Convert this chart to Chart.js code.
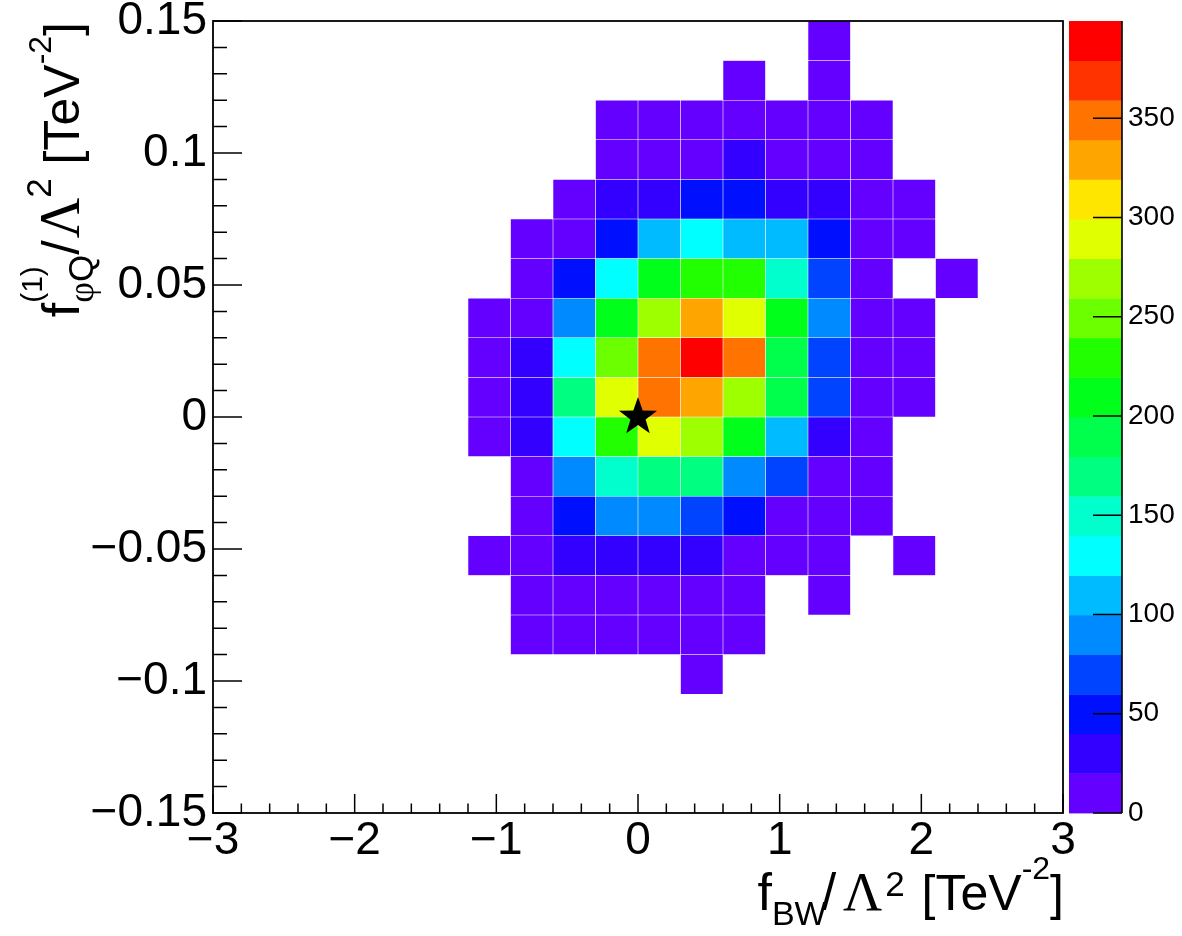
<!DOCTYPE html>
<html>
<head>
<meta charset="utf-8">
<script src="https://cdn.jsdelivr.net/npm/chart.js@4.4.1/dist/chart.umd.min.js"></script>
<style>
  html, body { margin: 0; padding: 0; background: #fff; }
  canvas { display: block; }
</style>
</head>
<body>
<canvas id="hist" width="1182" height="936"></canvas>
<script>
// bin edges of the 2D histogram
const xEdges = [-3, -2.7, -2.4, -2.1, -1.8, -1.5, -1.2, -0.9, -0.6, -0.3, 0,
                0.3, 0.6, 0.9, 1.2, 1.5, 1.8, 2.1, 2.4, 2.7, 3];
const yEdges = [0.15, 0.135, 0.12, 0.105, 0.09, 0.075, 0.06, 0.045, 0.03, 0.015, 0,
                -0.015, -0.03, -0.045, -0.06, -0.075, -0.09, -0.105, -0.12, -0.135, -0.15];

// bin contents, one row per y bin (top row first), one column per x bin
const counts = [
  [0, 0, 0, 0, 0, 0, 0, 0, 0, 0, 0, 0, 0, 0, 3, 0, 0, 0, 0, 0],
  [0, 0, 0, 0, 0, 0, 0, 0, 0, 0, 0, 0, 2, 0, 4, 0, 0, 0, 0, 0],
  [0, 0, 0, 0, 0, 0, 0, 0, 0, 6, 9, 12, 15, 11, 8, 5, 0, 0, 0, 0],
  [0, 0, 0, 0, 0, 0, 0, 0, 0, 11, 16, 18, 24, 17, 13, 7, 0, 0, 0, 0],
  [0, 0, 0, 0, 0, 0, 0, 0, 9, 26, 35, 52, 49, 31, 24, 14, 6, 0, 0, 0],
  [0, 0, 0, 0, 0, 0, 0, 5, 18, 57, 108, 126, 112, 103, 44, 16, 7, 0, 0, 0],
  [0, 0, 0, 0, 0, 0, 0, 10, 55, 128, 208, 226, 222, 149, 68, 17, 0, 2, 0, 0],
  [0, 0, 0, 0, 0, 0, 4, 19, 88, 212, 268, 331, 294, 205, 86, 15, 5, 0, 0, 0],
  [0, 0, 0, 0, 0, 0, 6, 33, 133, 252, 352, 399, 347, 188, 66, 18, 8, 0, 0, 0],
  [0, 0, 0, 0, 0, 0, 9, 37, 166, 291, 355, 327, 272, 186, 73, 14, 6, 0, 0, 0],
  [0, 0, 0, 0, 0, 0, 8, 29, 131, 233, 296, 266, 211, 115, 27, 12, 0, 0, 0, 0],
  [0, 0, 0, 0, 0, 0, 0, 13, 93, 152, 171, 175, 85, 64, 17, 9, 0, 0, 0, 0],
  [0, 0, 0, 0, 0, 0, 0, 11, 48, 91, 95, 71, 45, 18, 13, 5, 0, 0, 0, 0],
  [0, 0, 0, 0, 0, 0, 3, 16, 26, 32, 36, 25, 19, 10, 6, 0, 1, 0, 0, 0],
  [0, 0, 0, 0, 0, 0, 0, 7, 12, 17, 14, 11, 9, 0, 3, 0, 0, 0, 0, 0],
  [0, 0, 0, 0, 0, 0, 0, 4, 6, 8, 9, 7, 4, 0, 0, 0, 0, 0, 0, 0],
  [0, 0, 0, 0, 0, 0, 0, 0, 0, 0, 0, 2, 0, 0, 0, 0, 0, 0, 0, 0],
  [0, 0, 0, 0, 0, 0, 0, 0, 0, 0, 0, 0, 0, 0, 0, 0, 0, 0, 0, 0],
  [0, 0, 0, 0, 0, 0, 0, 0, 0, 0, 0, 0, 0, 0, 0, 0, 0, 0, 0, 0],
  [0, 0, 0, 0, 0, 0, 0, 0, 0, 0, 0, 0, 0, 0, 0, 0, 0, 0, 0, 0]
];
const zMax = 399;

// SM point
const starPoint = [{ x: 0, y: 0 }];

const xTickValues = [-3, -2, -1, 0, 1, 2, 3];
const xTickLabels = ['\u22123', '\u22122', '\u22121', '0', '1', '2', '3'];
const yTickValues = [-0.15, -0.1, -0.05, 0, 0.05, 0.1, 0.15];
const yTickLabels = ['\u22120.15', '\u22120.1', '\u22120.05', '0', '0.05', '0.1', '0.15'];
const zTickValues = [0, 50, 100, 150, 200, 250, 300, 350];
const zTickLabels = ['0', '50', '100', '150', '200', '250', '300', '350'];

// rainbow palette, lowest band first
const palette = ['#6400ff', '#3300ff', '#0010ff', '#0044ff', '#008aff', '#00bbff', '#00ffff',
                 '#00ffcc', '#00ff80', '#00ff4d', '#00ff1a', '#22ff00', '#6bff00', '#9eff00',
                 '#e0ff00', '#ffe600', '#ffa500', '#ff7300', '#ff3300', '#ff0000'];

const SANS = "'Liberation Sans', Arial, Helvetica, sans-serif";
const SERIF = "'Liberation Serif', 'Times New Roman', serif";

function band(v) {
  return Math.min(palette.length - 1, Math.floor(v / zMax * palette.length));
}

const cells = [];
counts.forEach((row, j) => {
  row.forEach((v, i) => {
    if (v > 0) {
      cells.push({ x: (xEdges[i] + xEdges[i + 1]) / 2, y: [yEdges[j + 1], yEdges[j]], v: v });
    }
  });
});

function starImage() {
  const c = document.createElement('canvas');
  c.width = c.height = 44;
  const g = c.getContext('2d');
  g.beginPath();
  for (let k = 0; k < 10; k++) {
    const r = k % 2 ? 8 : 20;
    const a = -Math.PI / 2 + k * Math.PI / 5;
    g.lineTo(22 + r * Math.cos(a), 22 + r * Math.sin(a));
  }
  g.closePath();
  g.fillStyle = '#000';
  g.fill();
  return c;
}

// text with sub/superscripts, drawn along +u from u0 on baseline 0
function drawRich(ctx, parts, u0) {
  let u = u0;
  parts.forEach(p => {
    ctx.font = p.px + 'px ' + (p.serif ? SERIF : SANS);
    u += p.dx || 0;
    ctx.fillText(p.t, u, p.dy || 0);
    if (!p.keep) u += ctx.measureText(p.t).width;
  });
  return u;
}

function richWidth(ctx, parts) {
  let u = 0;
  parts.forEach(p => {
    ctx.font = p.px + 'px ' + (p.serif ? SERIF : SANS);
    u += p.dx || 0;
    if (!p.keep) u += ctx.measureText(p.t).width;
  });
  return u;
}

const xTitle = [
  { t: 'f', px: 52 },
  { t: 'BW', px: 34, dy: 15 },
  { t: '/', px: 52, dx: -5 },
  { t: '\u039B', px: 54, serif: true, dx: 7 },
  { t: '2', px: 35, dy: -14, dx: 3 },
  { t: ' [TeV', px: 50, dx: 3 },
  { t: '-2', px: 32, dy: -31 },
  { t: ']', px: 50 }
];

const yTitle = [
  { t: 'f', px: 52 },
  { t: '(1)', px: 30, dy: -37, keep: true },
  { t: '\u03C6', px: 36, dy: 14, serif: true },
  { t: 'Q', px: 35, dy: 14 },
  { t: '/', px: 52 },
  { t: '\u039B', px: 56, serif: true, dx: 2 },
  { t: '2', px: 35, dy: -28 },
  { t: ' [TeV', px: 50 },
  { t: '-2', px: 32, dy: -28 },
  { t: ']', px: 50 }
];

const rootFrame = {
  id: 'rootFrame',
  afterDraw(chart) {
    const { ctx, chartArea: a } = chart;
    const { x, y, z } = chart.scales;
    ctx.save();

    // colour bar
    const bx0 = z.left + 6, bx1 = z.left + 59;
    palette.forEach((c, k) => {
      const yTop = z.getPixelForValue(zMax * (k + 1) / palette.length);
      const yBot = z.getPixelForValue(zMax * k / palette.length);
      ctx.fillStyle = c;
      ctx.fillRect(bx0, yTop, bx1 - bx0, yBot - yTop + 0.4);
    });
    ctx.strokeStyle = '#000';
    ctx.lineWidth = 1.6;
    ctx.beginPath();
    ctx.moveTo(bx1, a.top);
    ctx.lineTo(bx1, a.bottom);
    zTickValues.forEach(v => {
      const py = z.getPixelForValue(v);
      ctx.moveTo(bx1, py);
      ctx.lineTo(bx1 - 29, py);
    });
    ctx.stroke();

    // frame
    ctx.lineWidth = 1.8;
    ctx.strokeRect(a.left, a.top, a.right - a.left, a.bottom - a.top);

    // ticks inside the frame
    ctx.lineWidth = 1.5;
    ctx.beginPath();
    xTickValues.forEach((v, n) => {
      const px = x.getPixelForValue(v);
      ctx.moveTo(px, a.bottom);
      ctx.lineTo(px, a.bottom - 19);
      if (n < xTickValues.length - 1) {
        const step = (xTickValues[n + 1] - v) / 5;
        for (let m = 1; m < 5; m++) {
          const mx = x.getPixelForValue(v + m * step);
          ctx.moveTo(mx, a.bottom);
          ctx.lineTo(mx, a.bottom - 9.5);
        }
      }
    });
    yTickValues.forEach((v, n) => {
      const py = y.getPixelForValue(v);
      ctx.moveTo(a.left, py);
      ctx.lineTo(a.left + 29, py);
      if (n < yTickValues.length - 1) {
        const step = (yTickValues[n + 1] - v) / 5;
        for (let m = 1; m < 5; m++) {
          const my = y.getPixelForValue(v + m * step);
          ctx.moveTo(a.left, my);
          ctx.lineTo(a.left + 14, my);
        }
      }
    });
    ctx.stroke();

    // axis titles
    ctx.fillStyle = '#000';
    ctx.textAlign = 'left';
    ctx.textBaseline = 'alphabetic';
    ctx.save();
    ctx.translate(0, a.bottom + 97);
    drawRich(ctx, xTitle, a.right + 1 - richWidth(ctx, xTitle));
    ctx.restore();

    ctx.save();
    ctx.translate(a.left - 134, a.top + 1);
    ctx.rotate(-Math.PI / 2);
    drawRich(ctx, yTitle, -richWidth(ctx, yTitle));
    ctx.restore();

    ctx.restore();
  }
};

const tickFont = { family: SANS, size: 46, lineHeight: 1 };

new Chart(document.getElementById('hist'), {
  type: 'bar',
  data: {
    datasets: [
      {
        type: 'scatter',
        data: starPoint,
        pointStyle: starImage(),
        pointRadius: 20,
        order: 0
      },
      {
        type: 'bar',
        data: cells,
        backgroundColor: c => (c.raw ? palette[band(c.raw.v)] : palette[0]),
        borderColor: 'rgba(255,255,255,0.14)',
        borderWidth: 0.6,
        borderSkipped: false,
        categoryPercentage: 1,
        barPercentage: 1,
        order: 1
      }
    ]
  },
  options: {
    responsive: false,
    animation: false,
    events: [],
    layout: { padding: { top: 19, left: 0, right: 0, bottom: 0 } },
    plugins: { legend: { display: false }, tooltip: { enabled: false } },
    scales: {
      x: {
        type: 'linear',
        min: -3,
        max: 3,
        offset: false,
        grid: { display: false, drawTicks: false, offset: false },
        border: { display: false },
        ticks: {
          font: tickFont,
          color: '#000',
          padding: 5,
          autoSkip: false,
          maxRotation: 0,
          callback: (v, i) => xTickLabels[i]
        },
        afterBuildTicks: s => { s.ticks = xTickValues.map(v => ({ value: v })); },
        afterFit: s => { s.height = 123; s.paddingLeft = 0; s.paddingRight = 0; }
      },
      y: {
        type: 'linear',
        position: 'left',
        min: -0.15,
        max: 0.15,
        grid: { display: false, drawTicks: false },
        border: { display: false },
        ticks: {
          font: tickFont,
          color: '#000',
          padding: 6,
          autoSkip: false,
          callback: (v, i) => yTickLabels[i]
        },
        afterBuildTicks: s => { s.ticks = yTickValues.map(v => ({ value: v })); },
        afterFit: s => { s.width = 213; s.paddingTop = 0; s.paddingBottom = 0; }
      },
      z: {
        type: 'linear',
        position: 'right',
        min: 0,
        max: zMax,
        grid: { display: false, drawTicks: false },
        border: { display: false },
        ticks: {
          font: { family: SANS, size: 28, lineHeight: 1 },
          color: '#000',
          padding: 65,
          autoSkip: false,
          callback: (v, i) => zTickLabels[i]
        },
        afterBuildTicks: s => { s.ticks = zTickValues.map(v => ({ value: v })); },
        afterFit: s => { s.width = 119; s.paddingTop = 0; s.paddingBottom = 0; }
      }
    }
  },
  plugins: [rootFrame]
});
</script>
</body>
</html>
